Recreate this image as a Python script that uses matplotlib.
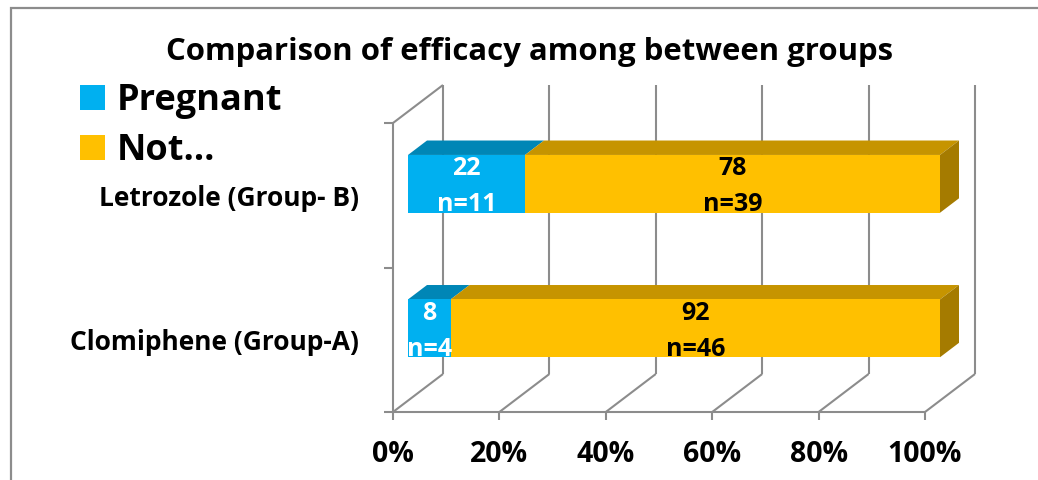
import matplotlib
matplotlib.use('Agg')
import matplotlib.pyplot as plt
from matplotlib.patches import Polygon, Rectangle, Patch
from matplotlib.lines import Line2D
from matplotlib.transforms import IdentityTransform

# ---------------- data ----------------
categories = ['Clomiphene (Group-A)', 'Letrozole (Group- B)']
pregnant_pct = [8, 22]
not_pct = [92, 78]
pregnant_n = [4, 11]
not_n = [46, 39]
series_names = ['Pregnant', 'Not…']
x_ticks = [0, 20, 40, 60, 80, 100]
x_tick_labels = ['0%', '20%', '40%', '60%', '80%', '100%']
title = 'Comparison of efficacy among between groups'

# ---------------- style ----------------
FONT = ['Open Sans', 'DejaVu Sans']
plt.rcParams['font.family'] = FONT
BLUE, BLUE_TOP = '#00B0F0', '#0086B6'
ORANGE, ORANGE_TOP, ORANGE_SIDE = '#FFC000', '#C69400', '#A57B00'
GRID = '#8C8C8C'
GLW = 1.5

W, H = 1038, 480
fig = plt.figure(figsize=(W / 100, H / 100), dpi=100)
ax = fig.add_axes([393 / W, 1 - 412 / H, 532 / W, 289 / H])
ax.set_xlim(0, 100)
ax.set_ylim(-0.5, 1.5)
for s in ax.spines.values():
    s.set_visible(False)
ax.patch.set_visible(False)

DX, DY = 50, 38          # pixel depth of floor / walls
F0, F1 = 0.30, 0.68       # bar front / back depth fractions
BH = 0.2                  # half bar height (category units)
yc = list(range(len(categories)))
y_lo, y_hi = -0.5, len(categories) - 0.5

ID = IdentityTransform()


def P(x, y, d=0.0):
    px, py = ax.transData.transform((x, y))
    return (px + d * DX, py + d * DY)


def seg(p, q, **kw):
    ax.add_line(Line2D([p[0], q[0]], [p[1], q[1]], transform=ID, color=GRID,
                       lw=GLW, clip_on=False, zorder=1, solid_capstyle='butt', **kw))


# back wall verticals + floor diagonals + ticks
for xv in x_ticks:
    seg(P(xv, y_lo, 1), P(xv, y_hi, 1))
    seg(P(xv, y_lo, 0), P(xv, y_lo, 1))
    a = P(xv, y_lo, 0)
    seg(a, (a[0], a[1] - 8))
# left wall
seg(P(0, y_lo, 0), P(0, y_hi, 0))
seg(P(0, y_hi, 0), P(0, y_hi, 1))
# front bottom axis
seg(P(0, y_lo, 0), P(100, y_lo, 0))
# left ticks at category boundaries
for yb in [y_lo + k for k in range(len(categories) + 1)]:
    a = P(0, yb, 0)
    seg(a, (a[0] - 9, a[1]))


def poly(pts, fc, z):
    ax.add_patch(Polygon(pts, closed=True, transform=ID, facecolor=fc,
                         edgecolor='none', clip_on=False, zorder=z))


PT = 0.72  # points per pixel at 100 dpi
for i, c in enumerate(yc):
    segs = [(pregnant_pct[i], pregnant_n[i], BLUE, BLUE_TOP, None, 'white'),
            (not_pct[i], not_n[i], ORANGE, ORANGE_TOP, ORANGE_SIDE, 'black')]
    left = 0
    for j, (v, n, fc, tc, sc, txt) in enumerate(segs):
        a, b = left, left + v
        poly([P(a, c + BH, F0), P(b, c + BH, F0), P(b, c + BH, F1), P(a, c + BH, F1)], tc, 3)
        if j == len(segs) - 1:
            poly([P(b, c - BH, F0), P(b, c - BH, F1), P(b, c + BH, F1), P(b, c + BH, F0)], sc, 3)
        poly([P(a, c - BH, F0), P(b, c - BH, F0), P(b, c + BH, F0), P(a, c + BH, F0)], fc, 4)
        cx = (a + b) / 2
        for lab, dy in [(f'{v}', 15), (f'n={n}', -21)]:
            ax.annotate(lab, xy=(cx, c), xycoords='data',
                        xytext=(F0 * DX * PT, (F0 * DY + dy) * PT), textcoords='offset points',
                        ha='center', va='center', fontsize=18, fontweight='bold',
                        color=txt, zorder=5, annotation_clip=False)
        left = b

# tick labels
ax.set_xticks(x_ticks)
ax.set_xticklabels(x_tick_labels, fontsize=20.5, fontweight='bold')
ax.set_yticks(yc)
ax.set_yticklabels(categories, fontsize=19, fontweight='bold')
ax.tick_params(axis='x', length=0, pad=20)
ax.tick_params(axis='y', length=0, pad=24.5)

# title
fig.text(530 / W, 1 - 52 / H, title, ha='center', va='center',
         fontsize=22.4, fontweight='bold')

# legend
handles = [Patch(facecolor=BLUE, edgecolor='none'), Patch(facecolor=ORANGE, edgecolor='none')]
fig.legend(handles, series_names, loc='upper left', bbox_to_anchor=(80 / W, 1 - 83 / H),
           frameon=False, prop={'family': FONT, 'weight': 'bold', 'size': 26},
           handlelength=0.68, handleheight=0.68, handletextpad=0.35,
           labelspacing=0.4, borderaxespad=0, borderpad=0)

# outer border
fig.add_artist(Rectangle((11 / W, -0.2), 1.2, 1.2 - 8 / H, transform=fig.transFigure,
                         fill=False, edgecolor='#8C8C8C', lw=1.6))

fig.savefig('out.png', dpi=100)
